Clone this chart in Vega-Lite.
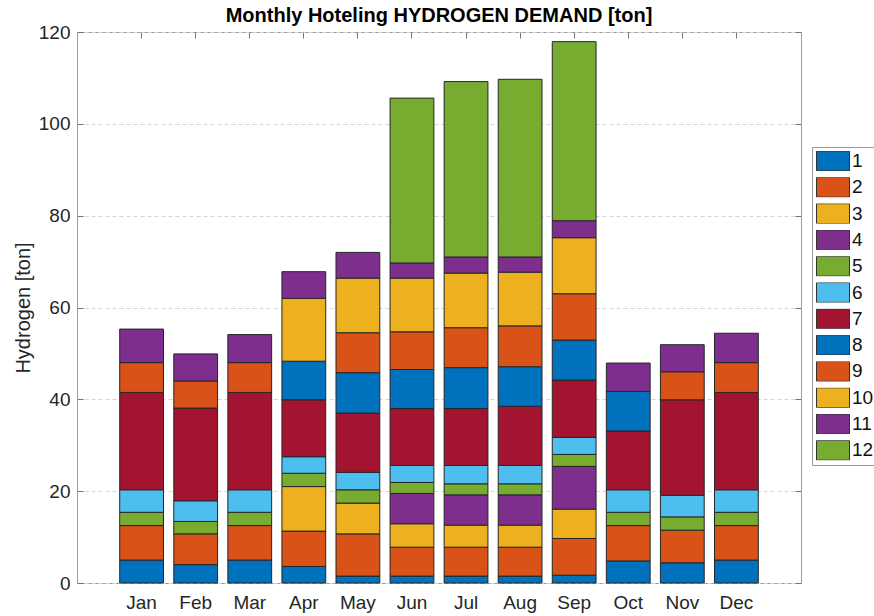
{
  "$schema": "https://vega.github.io/schema/vega-lite/v6.json",
  "width": 724,
  "height": 551,
  "autosize": {"type": "none"},
  "padding": {"left": 77, "top": 32, "right": 73, "bottom": 33},
  "background": "white",
  "config": {
    "view": {"stroke": "#9a9a9a", "strokeWidth": 1},
    "font": "Liberation Sans"
  },
  "title": {
    "text": "Monthly Hoteling HYDROGEN DEMAND [ton]",
    "fontSize": 20,
    "fontWeight": "bold",
    "font": "Liberation Sans",
    "color": "#000000",
    "anchor": "middle",
    "offset": 7,
    "dy": 10
  },
  "data": {
    "values": [
      {"month": "Jan", "series": 1, "value": 5.0}, {"month": "Jan", "series": 2, "value": 7.5}, {"month": "Jan", "series": 5, "value": 2.9}, {"month": "Jan", "series": 6, "value": 4.9}, {"month": "Jan", "series": 7, "value": 21.2}, {"month": "Jan", "series": 9, "value": 6.5}, {"month": "Jan", "series": 11, "value": 7.3},
      {"month": "Feb", "series": 1, "value": 4.0}, {"month": "Feb", "series": 2, "value": 6.7}, {"month": "Feb", "series": 5, "value": 2.7}, {"month": "Feb", "series": 6, "value": 4.5}, {"month": "Feb", "series": 7, "value": 20.2}, {"month": "Feb", "series": 9, "value": 5.9}, {"month": "Feb", "series": 11, "value": 5.9},
      {"month": "Mar", "series": 1, "value": 5.0}, {"month": "Mar", "series": 2, "value": 7.5}, {"month": "Mar", "series": 5, "value": 2.9}, {"month": "Mar", "series": 6, "value": 4.9}, {"month": "Mar", "series": 7, "value": 21.2}, {"month": "Mar", "series": 9, "value": 6.5}, {"month": "Mar", "series": 11, "value": 6.1},
      {"month": "Apr", "series": 1, "value": 3.6}, {"month": "Apr", "series": 2, "value": 7.7}, {"month": "Apr", "series": 3, "value": 9.7}, {"month": "Apr", "series": 5, "value": 2.9}, {"month": "Apr", "series": 6, "value": 3.6}, {"month": "Apr", "series": 7, "value": 12.4}, {"month": "Apr", "series": 8, "value": 8.4}, {"month": "Apr", "series": 10, "value": 13.7}, {"month": "Apr", "series": 11, "value": 5.8},
      {"month": "May", "series": 1, "value": 1.5}, {"month": "May", "series": 2, "value": 9.2}, {"month": "May", "series": 3, "value": 6.7}, {"month": "May", "series": 5, "value": 2.9}, {"month": "May", "series": 6, "value": 3.8}, {"month": "May", "series": 7, "value": 12.9}, {"month": "May", "series": 8, "value": 8.8}, {"month": "May", "series": 9, "value": 8.7}, {"month": "May", "series": 10, "value": 11.9}, {"month": "May", "series": 11, "value": 5.6},
      {"month": "Jun", "series": 1, "value": 1.5}, {"month": "Jun", "series": 2, "value": 6.3}, {"month": "Jun", "series": 3, "value": 5.1}, {"month": "Jun", "series": 4, "value": 6.6}, {"month": "Jun", "series": 5, "value": 2.4}, {"month": "Jun", "series": 6, "value": 3.7}, {"month": "Jun", "series": 7, "value": 12.4}, {"month": "Jun", "series": 8, "value": 8.5}, {"month": "Jun", "series": 9, "value": 8.2}, {"month": "Jun", "series": 10, "value": 11.7}, {"month": "Jun", "series": 11, "value": 3.3}, {"month": "Jun", "series": 12, "value": 35.9},
      {"month": "Jul", "series": 1, "value": 1.5}, {"month": "Jul", "series": 2, "value": 6.3}, {"month": "Jul", "series": 3, "value": 4.8}, {"month": "Jul", "series": 4, "value": 6.6}, {"month": "Jul", "series": 5, "value": 2.4}, {"month": "Jul", "series": 6, "value": 4.0}, {"month": "Jul", "series": 7, "value": 12.4}, {"month": "Jul", "series": 8, "value": 8.9}, {"month": "Jul", "series": 9, "value": 8.7}, {"month": "Jul", "series": 10, "value": 11.9}, {"month": "Jul", "series": 11, "value": 3.5}, {"month": "Jul", "series": 12, "value": 38.2},
      {"month": "Aug", "series": 1, "value": 1.5}, {"month": "Aug", "series": 2, "value": 6.3}, {"month": "Aug", "series": 3, "value": 4.8}, {"month": "Aug", "series": 4, "value": 6.6}, {"month": "Aug", "series": 5, "value": 2.4}, {"month": "Aug", "series": 6, "value": 4.0}, {"month": "Aug", "series": 7, "value": 12.9}, {"month": "Aug", "series": 8, "value": 8.6}, {"month": "Aug", "series": 9, "value": 8.9}, {"month": "Aug", "series": 10, "value": 11.7}, {"month": "Aug", "series": 11, "value": 3.3}, {"month": "Aug", "series": 12, "value": 38.7},
      {"month": "Sep", "series": 1, "value": 1.7}, {"month": "Sep", "series": 2, "value": 8.0}, {"month": "Sep", "series": 3, "value": 6.4}, {"month": "Sep", "series": 4, "value": 9.3}, {"month": "Sep", "series": 5, "value": 2.6}, {"month": "Sep", "series": 6, "value": 3.7}, {"month": "Sep", "series": 7, "value": 12.5}, {"month": "Sep", "series": 8, "value": 8.7}, {"month": "Sep", "series": 9, "value": 10.1}, {"month": "Sep", "series": 10, "value": 12.2}, {"month": "Sep", "series": 11, "value": 3.7}, {"month": "Sep", "series": 12, "value": 39.0},
      {"month": "Oct", "series": 1, "value": 4.8}, {"month": "Oct", "series": 2, "value": 7.7}, {"month": "Oct", "series": 5, "value": 2.9}, {"month": "Oct", "series": 6, "value": 4.9}, {"month": "Oct", "series": 7, "value": 12.8}, {"month": "Oct", "series": 8, "value": 8.6}, {"month": "Oct", "series": 11, "value": 6.2},
      {"month": "Nov", "series": 1, "value": 4.4}, {"month": "Nov", "series": 2, "value": 7.1}, {"month": "Nov", "series": 5, "value": 2.9}, {"month": "Nov", "series": 6, "value": 4.7}, {"month": "Nov", "series": 7, "value": 20.8}, {"month": "Nov", "series": 9, "value": 6.1}, {"month": "Nov", "series": 11, "value": 5.9},
      {"month": "Dec", "series": 1, "value": 5.0}, {"month": "Dec", "series": 2, "value": 7.5}, {"month": "Dec", "series": 5, "value": 2.9}, {"month": "Dec", "series": 6, "value": 4.9}, {"month": "Dec", "series": 7, "value": 21.2}, {"month": "Dec", "series": 9, "value": 6.5}, {"month": "Dec", "series": 11, "value": 6.4}
    ]
  },
  "layer": [
    {
      "mark": {"type": "bar", "stroke": "#262626", "strokeWidth": 1},
      "encoding": {
        "x": {
          "field": "month",
          "type": "nominal",
          "sort": ["Jan", "Feb", "Mar", "Apr", "May", "Jun", "Jul", "Aug", "Sep", "Oct", "Nov", "Dec"],
          "scale": {"paddingInner": 0.19, "paddingOuter": 0.79},
          "axis": {
            "orient": "bottom",
            "title": null,
            "labelAngle": 0,
            "labelFontSize": 19,
            "labelColor": "#262626",
            "labelFont": "Liberation Sans",
            "domain": false,
            "ticks": true,
            "tickSize": -6,
            "tickColor": "#777777",
            "labelPadding": 16
          }
        },
        "y": {
          "field": "value",
          "type": "quantitative",
          "stack": "zero",
          "scale": {"domain": [0, 120], "nice": false},
          "axis": {
            "orient": "left",
            "values": [0, 20, 40, 60, 80, 100, 120],
            "title": "Hydrogen [ton]",
            "titleFontSize": 20,
            "titleFontWeight": "normal",
            "titleColor": "#262626",
            "titleFont": "Liberation Sans",
            "titlePadding": 5,
            "labelFontSize": 19,
            "labelColor": "#262626",
            "labelFont": "Liberation Sans",
            "domain": false,
            "tickSize": -6,
            "tickColor": "#777777",
            "labelPadding": 13,
            "grid": true,
            "gridDash": [4, 3],
            "gridColor": "#d4d4d4",
            "gridWidth": 1
          }
        },
        "color": {
          "field": "series",
          "type": "nominal",
          "scale": {
            "domain": [1, 2, 3, 4, 5, 6, 7, 8, 9, 10, 11, 12],
            "range": ["#0072BD", "#D95319", "#EDB120", "#7E2F8E", "#77AC30", "#4DBEEE", "#A2142F", "#0072BD", "#D95319", "#EDB120", "#7E2F8E", "#77AC30"]
          },
          "legend": {
            "orient": "none",
            "legendX": 735,
            "legendY": 115,
            "title": null,
            "symbolType": "M-1,-0.6H1V0.6H-1Z",
            "symbolSize": 1089,
            "symbolStrokeColor": "#333333",
            "symbolStrokeWidth": 1,
            "symbolOpacity": 1,
            "labelFontSize": 19,
            "labelColor": "#111111",
            "labelFont": "Liberation Sans",
            "labelOffset": 2,
            "clipHeight": 20,
            "rowPadding": 6.3,
            "strokeColor": "#999999",
            "fillColor": "white",
            "padding": 4
          }
        },
        "order": {"field": "series", "type": "quantitative", "sort": "ascending"}
      }
    },
    {
      "mark": {"type": "bar", "opacity": 0},
      "encoding": {
        "x": {
          "field": "month",
          "type": "nominal",
          "sort": ["Jan", "Feb", "Mar", "Apr", "May", "Jun", "Jul", "Aug", "Sep", "Oct", "Nov", "Dec"],
          "axis": {"orient": "top", "title": null, "labels": false, "domain": false, "tickSize": -6, "tickColor": "#777777"}
        },
        "y": {
          "field": "value",
          "type": "quantitative",
          "stack": "zero",
          "axis": {"orient": "right", "title": null, "labels": false, "domain": false, "grid": false, "values": [0, 20, 40, 60, 80, 100, 120], "tickSize": -6, "tickColor": "#777777"}
        }
      }
    }
  ],
  "resolve": {"axis": {"x": "independent", "y": "independent"}}
}
